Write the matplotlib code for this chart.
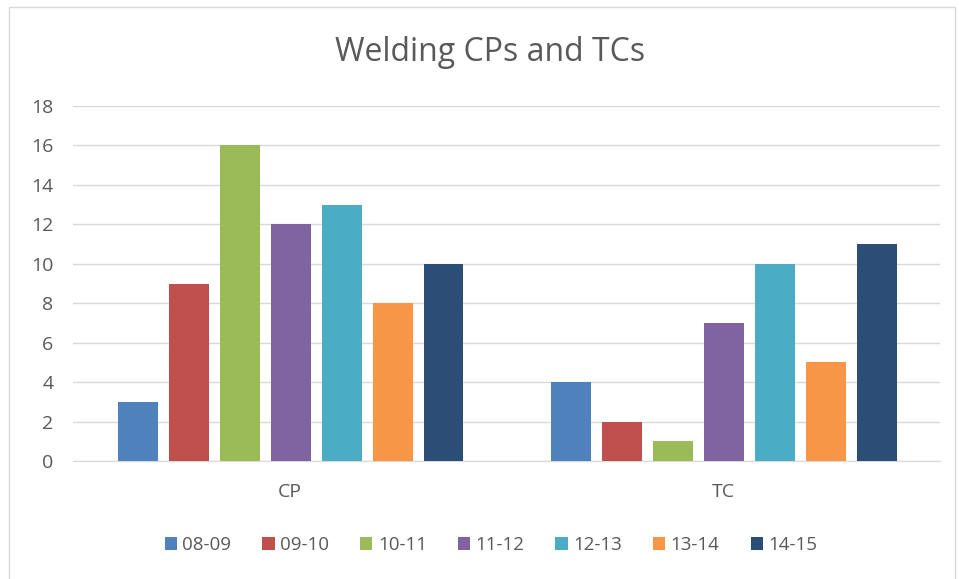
import numpy as np
import matplotlib.pyplot as plt
from matplotlib.patches import Rectangle

# Welding CPs and TCs per school year
categories = ['CP', 'TC']
years = ['08-09', '09-10', '10-11', '11-12', '12-13', '13-14', '14-15']
values = {
    '08-09': [3, 4],
    '09-10': [9, 2],
    '10-11': [16, 1],
    '11-12': [12, 7],
    '12-13': [13, 10],
    '13-14': [8, 5],
    '14-15': [10, 11],
}
colors = ['#4F81BD', '#C0504D', '#9BBB59', '#8064A2', '#4BACC6', '#F79646', '#2C4D75']

plt.rcParams['font.family'] = ['Open Sans', 'DejaVu Sans']
text_color = '#595959'

fig = plt.figure(figsize=(9.59, 5.79), dpi=100)
ax = fig.add_axes([0.0761, 0.2038, 0.9041, 0.6131])

x = np.arange(len(categories))
pitch = 0.1176
width = 0.092
for i, yr in enumerate(years):
    ax.bar(x + (i - 3) * pitch + 0.002, values[yr], width, color=colors[i], label=yr, zorder=3)

ax.set_xlim(-0.5, 1.5)
ax.set_ylim(0, 18)
ax.set_yticks(range(0, 19, 2))
ax.set_xticks(x)
ax.set_xticklabels(categories)
ax.yaxis.grid(True, color='#D9D9D9', linewidth=1, zorder=0)
for s in ['top', 'right', 'left']:
    ax.spines[s].set_visible(False)
ax.spines['bottom'].set_color('#D9D9D9')
ax.tick_params(axis='both', length=0, labelsize=14, colors=text_color)
ax.tick_params(axis='y', pad=14)
ax.tick_params(axis='x', pad=16)

fig.text(0.511, 0.91, 'Welding CPs and TCs', ha='center', va='center',
         fontsize=23, color=text_color)

fig.legend(loc='center', bbox_to_anchor=(0.512, 0.059), ncol=7, frameon=False,
           fontsize=13.5, handlelength=0.65, handleheight=0.65, handletextpad=0.3,
           columnspacing=1.65, labelcolor=text_color)

# chart area border
fig.patches.append(Rectangle((9 / 959, -0.01), (955 - 9) / 959, 1 - 7 / 579 + 0.01,
                             transform=fig.transFigure, fill=False,
                             edgecolor='#D9D9D9', linewidth=1))

fig.savefig('out.png', dpi=100)
